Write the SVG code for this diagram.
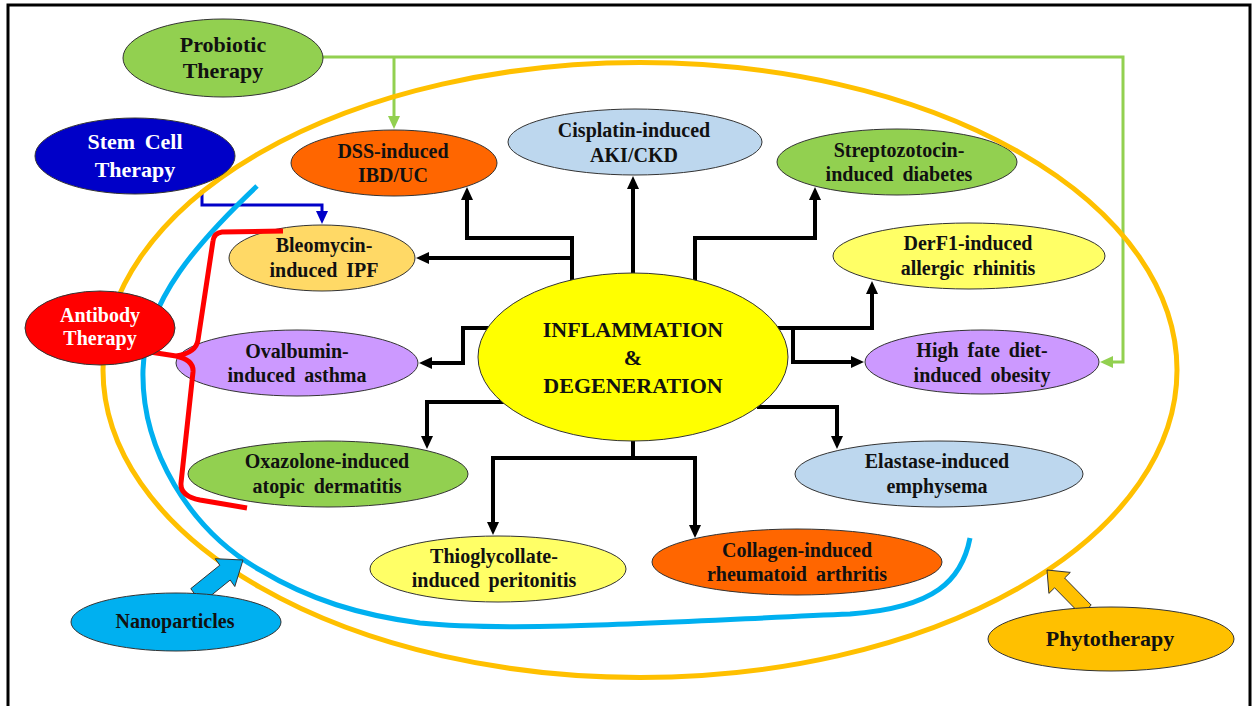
<svg xmlns="http://www.w3.org/2000/svg" width="1255" height="706" viewBox="0 0 1255 706">
<style>
.t{font-family:"Liberation Serif","Times New Roman",serif;font-weight:bold;font-size:20px;text-anchor:middle;fill:#111;word-spacing:4px}
.tw{fill:#fff}
.big{font-size:22px}
.n{stroke:#333;stroke-width:1}
.blk{fill:none;stroke:#000;stroke-width:4;stroke-linejoin:miter}
.grn{fill:none;stroke:#92D050;stroke-width:3}
.blu{fill:none;stroke:#0000C8;stroke-width:3}
</style>
<defs>
<marker id="ab" markerUnits="userSpaceOnUse" markerWidth="14" markerHeight="14" viewBox="0 0 14 14" refX="2" refY="6" orient="auto"><path d="M0,0 L13,6 L0,12 z" fill="#000"/></marker>
<marker id="ag" markerUnits="userSpaceOnUse" markerWidth="14" markerHeight="14" viewBox="0 0 14 14" refX="2" refY="6" orient="auto"><path d="M0,0 L13,6 L0,12 z" fill="#92D050"/></marker>
<marker id="au" markerUnits="userSpaceOnUse" markerWidth="14" markerHeight="14" viewBox="0 0 14 14" refX="2" refY="6" orient="auto"><path d="M0,0 L13,6 L0,12 z" fill="#0000C8"/></marker>
</defs>
<rect x="8" y="5" width="1242" height="710" fill="#fff" stroke="#000" stroke-width="3"/>

<g id="connectors">
<path class="blk" d="M572,285 V238 H467 V198" marker-end="url(#ab)"/>
<path class="blk" d="M572,258 H427" marker-end="url(#ab)"/>
<path class="blk" d="M633,280 V187" marker-end="url(#ab)"/>
<path class="blk" d="M695,285 V238 H815 V198" marker-end="url(#ab)"/>
<path class="blk" d="M775,328 H872 V292" marker-end="url(#ab)"/>
<path class="blk" d="M793,328 V362 H853" marker-end="url(#ab)"/>
<path class="blk" d="M492,328 H463 V363 H430" marker-end="url(#ab)"/>
<path class="blk" d="M507,402 H427 V438" marker-end="url(#ab)"/>
<path class="blk" d="M757,407 H837 V438" marker-end="url(#ab)"/>
<path class="blk" d="M633,435 V458 H493 V524" marker-end="url(#ab)"/>
<path class="blk" d="M633,458 H695 V527" marker-end="url(#ab)"/>
<path class="grn" d="M320,57 H1123 V362 H1111" marker-end="url(#ag)"/>
<path class="grn" d="M394,57 V118" marker-end="url(#ag)"/>
<path class="blu" d="M202,190 V205 H322 V213" marker-end="url(#au)"/>
</g>

<g id="center"><ellipse class="n" cx="633" cy="357" rx="155" ry="84" fill="#FFFF00"/>
<text class="t big" x="633" y="337">INFLAMMATION</text><text class="t big" x="633" y="365">&amp;</text><text class="t big" x="633" y="393">DEGENERATION</text></g>

<g id="dss"><ellipse class="n" cx="394" cy="163" rx="103" ry="33" fill="#FF6600"/>
<text class="t" x="393" y="158">DSS-induced</text><text class="t" x="393" y="182">IBD/UC</text></g>
<g id="cisplatin"><ellipse class="n" cx="635" cy="142" rx="127" ry="33" fill="#BDD7EE"/>
<text class="t" x="634" y="137">Cisplatin-induced</text><text class="t" x="634" y="162">AKI/CKD</text></g>
<g id="strepto"><ellipse class="n" cx="897" cy="162" rx="120" ry="33" fill="#92D050"/>
<text class="t" x="899" y="157">Streptozotocin-</text><text class="t" x="899" y="181">induced diabetes</text></g>
<g id="derf1"><ellipse class="n" cx="969" cy="256" rx="136" ry="33" fill="#FFFF66"/>
<text class="t" x="968" y="250">DerF1-induced</text><text class="t" x="968" y="275">allergic rhinitis</text></g>
<g id="highfat"><ellipse class="n" cx="982" cy="362" rx="117" ry="32" fill="#CC99FF"/>
<text class="t" x="982" y="357">High fate diet-</text><text class="t" x="982" y="382">induced obesity</text></g>
<g id="elastase"><ellipse class="n" cx="939" cy="474" rx="144" ry="33" fill="#BDD7EE"/>
<text class="t" x="937" y="468">Elastase-induced</text><text class="t" x="937" y="493">emphysema</text></g>
<g id="collagen"><ellipse class="n" cx="797" cy="562" rx="145" ry="33" fill="#FF6600"/>
<text class="t" x="797" y="557">Collagen-induced</text><text class="t" x="797" y="581">rheumatoid arthritis</text></g>
<g id="thio"><ellipse class="n" cx="498" cy="569" rx="128" ry="33" fill="#FFFF66"/>
<text class="t" x="494" y="563">Thioglycollate-</text><text class="t" x="494" y="587">induced peritonitis</text></g>
<g id="oxazolone"><ellipse class="n" cx="328" cy="474" rx="140" ry="33" fill="#92D050"/>
<text class="t" x="327" y="468">Oxazolone-induced</text><text class="t" x="327" y="493">atopic dermatitis</text></g>
<g id="ovalbumin"><ellipse class="n" cx="297" cy="363" rx="121" ry="33" fill="#CC99FF"/>
<text class="t" x="297" y="358">Ovalbumin-</text><text class="t" x="297" y="382">induced asthma</text></g>
<g id="bleomycin"><ellipse class="n" cx="322" cy="258" rx="93" ry="33" fill="#FFD966"/>
<text class="t" x="324" y="252">Bleomycin-</text><text class="t" x="324" y="277">induced IPF</text></g>

<g id="scopes">
<ellipse cx="640" cy="370" rx="537" ry="307.5" fill="none" stroke="#FFC000" stroke-width="5"/>
<path d="M257,186 C200,240 145,300 143,370 C141,450 190,530 260,570 C310,600 360,615 420,623 C520,633 700,620 850,614 C935,608 962,580 970,538" fill="none" stroke="#00B0F0" stroke-width="5"/>
<path d="M283,231 L222,232 Q214,233 213,241 L198,340 Q196,353 176,356 L150,352 M176,356 Q194,360 193,372 L181,483 Q180,496 200,500 L247,508" fill="none" stroke="#FF0000" stroke-width="5" stroke-linejoin="round"/>
</g>

<g id="therapy-arrows">
<path d="M190.8,588.6 L219.8,565.2 L215.2,558.7 L243,560 L234.8,586.5 L230.2,580 L201.2,603.4 z" fill="#00B0F0" stroke="#333" stroke-width="1"/>
<path d="M1091.2,605.1 L1064.6,578 L1070.3,572.4 L1047,570 L1048.9,593.4 L1054.6,587.8 L1081.2,614.9 z" fill="#FFC000" stroke="#333" stroke-width="1"/>
</g>

<g id="probiotic"><ellipse class="n" cx="223" cy="58" rx="100" ry="39" fill="#92D050"/>
<text class="t big" x="223" y="52">Probiotic</text><text class="t big" x="223" y="78">Therapy</text></g>
<g id="stemcell"><ellipse class="n" cx="135" cy="156" rx="100" ry="38" fill="#0000C8"/>
<text class="t big tw" x="135" y="149">Stem Cell</text><text class="t big tw" x="135" y="177">Therapy</text></g>
<g id="antibody"><ellipse class="n" cx="100" cy="328" rx="75" ry="37" fill="#FF0000"/>
<text class="t tw" x="100" y="322">Antibody</text><text class="t tw" x="100" y="345">Therapy</text></g>
<g id="nanoparticles"><ellipse class="n" cx="176" cy="622" rx="105" ry="29" fill="#00B0F0"/>
<text class="t" x="175" y="628">Nanoparticles</text></g>
<g id="phytotherapy"><ellipse class="n" cx="1111" cy="639" rx="123" ry="32" fill="#FFC000"/>
<text class="t big" x="1110" y="646">Phytotherapy</text></g>
</svg>
